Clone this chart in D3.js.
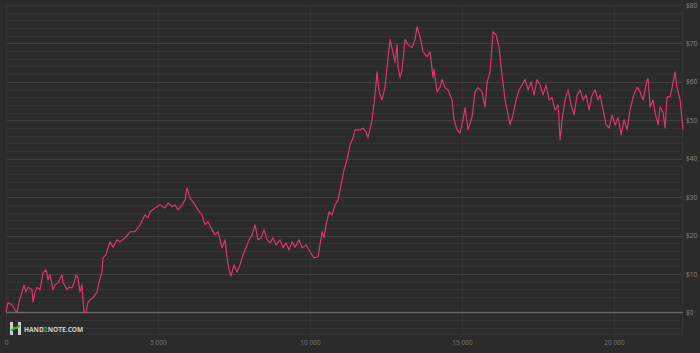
<!DOCTYPE html>
<html><head><meta charset="utf-8">
<script src="https://cdn.jsdelivr.net/npm/d3@7"></script>
<style>html,body{margin:0;padding:0;background:#2b2b2b;}svg{display:block;}</style>
</head><body>
<svg id="c" width="700" height="353"></svg>
<script>
const hands = [0,66,197,296,362,428,526,592,658,724,855,888,954,1020,1119,1217,1316,1382,1448,1546,1612,1711,1842,1875,2007,2073,2171,2237,2303,2369,2435,2500,2533,2566,2632,2698,2764,2862,2994,3060,3158,3191,3290,3356,3422,3520,3652,3751,
3915,4080,4244,4409,4573,4672,4738,4902,5067,5231,5330,5461,5560,5659,5790,5889,5955,6054,6218,6317,6448,6547,6646,6777,6876,6975,7106,7205,7271,7337,7403,7501,7600,7699,7797,7896,7995,8093,8192,8291,8390,8488,8587,8686,8784,8883,9015,9113,9212,9311,9409,9508,9640,9738,9870,10002,10133,10265,10331,10396,10462,10528,10627,10725,10824,10923,11022,11120,11219,11318,11416,
11482,11647,11745,11844,11910,12041,12140,12206,12272,12370,12469,12535,12634,12732,12798,12864,12897,12963,13028,13061,13127,13226,13357,13456,13522,13621,13719,13851,13950,14048,14081,14180,14279,14344,14443,14542,14673,14739,14838,14937,15035,15101,15200,15331,15430,15529,15660,15759,15825,15924,16022,16121,16220,
16318,16417,16516,16582,16680,16779,16878,16976,17075,17174,17273,17371,17470,17569,17667,17766,17865,17963,18062,18161,18227,18292,18391,18490,18589,18687,18786,18885,18983,19082,19181,19279,19378,19477,19543,19641,19740,19839,19937,20036,20135,20234,20332,20431,20530,20629,20760,20859,20958,21089,21122,21188,21286,21352,21451,21517,21615,21681,21747,21846,21911,22010,22076,22175,22240,22273];
const winnings = [0.1,2.5,2,0.7,0,2.7,5.3,7.2,5.3,6.6,5.9,2.7,5.3,6.6,5.9,10.3,11.1,8.5,9.8,5.9,7.2,7.7,9.8,7.9,5.9,6.6,6.4,7.7,9.8,9,5.3,7.2,3.3,0.1,0,2.7,3.3,3.8,5.3,7.9,10.5,14.2,15,16.8,18.4,17,18.9,18.4,
19.4,21,21,22.8,25.4,24.6,26.2,27.2,28,27.2,28.5,27.5,28,26.7,28,29.3,32.4,29.8,28,26.7,25.4,22.8,23.6,21.5,20.2,21,16.8,18.9,14.2,11.1,9.5,12.4,10.5,12.4,15,16.8,18.9,20.2,22.8,18.9,19.4,21.5,18.9,18.1,19.4,17.6,18.9,16.8,18.1,16.3,18.4,17,18.9,16.8,17.6,15.8,14.2,14.5,17.6,21,19.4,22.8,26.2,25.4,28,29.3,33.2,37.1,39.7,43.6,45.4,
47.5,47.5,48,47,45.4,50.1,56.6,62.6,57.4,55.3,58.7,63.9,71,67.6,65,69.7,63.9,61.1,63.2,65.8,71,69.7,68.9,71,74.3,71.7,67.8,66.5,67.8,61.1,63.2,57.4,58.7,60.6,58.5,57.9,55.3,50.1,47.5,46.7,50.1,53.3,47.5,50.9,57.4,58.5,57.4,53.5,59.8,62.6,73,72.3,68.9,
61.8,55.3,51.4,48.8,51.4,55.3,57.9,59.2,60.6,57.9,60,56.6,60.6,59.2,56.6,59.2,55.3,55.9,52.7,54,44.9,50.1,55.3,57.9,54,51.4,56.6,57.9,55.3,56.6,52.7,56.6,57.9,55.3,56.6,52.7,48.8,48,51.4,48.8,50.7,46.2,50.1,47.5,52.7,56.1,58.7,57.4,55.3,60.6,60.8,53.5,55.3,52,48.8,53.5,52,48,56.1,56.1,58.5,62.6,58.5,55.3,50.1,47.5];
const xTicks = [0,5000,10000,15000,20000];
const xTickLabels = ["0","5 000","10 000","15 000","20 000"];
const yTicks = [0,10,20,30,40,50,60,70,80];
const yTickLabels = ["$0","$10","$20","$30","$40","$50","$60","$70","$80"];

const svg = d3.select("#c");
const L=6,R=683,T=5,B=335;
const x = d3.scaleLinear().domain([0,22270]).range([L,R]);
const y = d3.scaleLinear().domain([-5.86,80]).range([B,T]);

svg.append("rect").attr("width",700).attr("height",353).attr("fill","#2b2b2b");

const minor = d3.range(-4,81,2).filter(v=>v%10!==0);
svg.append("g").selectAll("line").data(minor).join("line")
  .attr("x1",L).attr("x2",R).attr("y1",d=>Math.round(y(d))+0.5).attr("y2",d=>Math.round(y(d))+0.5)
  .attr("stroke","#333333").attr("stroke-width",1);
svg.append("g").selectAll("line").data(xTicks.slice(1)).join("line")
  .attr("x1",d=>Math.round(x(d))+0.5).attr("x2",d=>Math.round(x(d))+0.5).attr("y1",T).attr("y2",B)
  .attr("stroke","#353535");
svg.append("g").selectAll("line").data(yTicks.filter(v=>v!==0)).join("line")
  .attr("x1",L).attr("x2",R).attr("y1",d=>Math.round(y(d))+0.5).attr("y2",d=>Math.round(y(d))+0.5)
  .attr("stroke","#404040").attr("stroke-width",1);
svg.append("rect").attr("x",L+0.5).attr("y",T+0.5).attr("width",R-L-1).attr("height",B-T-1)
  .attr("fill","none").attr("stroke","#353535");

const yAxis = d3.axisRight(y).tickValues(yTicks).tickSize(0).tickPadding(3)
  .tickFormat((d,i)=>yTickLabels[i]);
const ga = svg.append("g").attr("transform",`translate(${R},0)`).call(yAxis);
ga.select(".domain").remove();
ga.selectAll("text").attr("fill","#8a8a8a").attr("font-size","6.5px").attr("font-family","'Open Sans', sans-serif");

const xAxis = d3.axisBottom(x).tickValues(xTicks).tickSize(0).tickPadding(5)
  .tickFormat((d,i)=>xTickLabels[i]);
const gx = svg.append("g").attr("transform",`translate(0,${B})`).call(xAxis);
gx.select(".domain").remove();
gx.selectAll("text").attr("fill","#7a7a7a").attr("font-size","6.5px").attr("font-family","'Open Sans', sans-serif");

svg.append("line").attr("x1",L).attr("x2",R).attr("y1",y(0)).attr("y2",y(0))
  .attr("stroke","#666666").attr("stroke-width",1.5);

const lg = svg.append("g").attr("transform","translate(10,322)");
lg.append("rect").attr("x",0).attr("y",0).attr("width",3).attr("height",13).attr("fill","#d0d0d0");
lg.append("rect").attr("x",8).attr("y",0).attr("width",3).attr("height",13).attr("fill","#d0d0d0");
lg.append("path").attr("d","M1.5,9 L4,6 L7,6 L9.5,3").attr("stroke","#3fae49").attr("stroke-width",2.2).attr("fill","none");
const lt = svg.append("text").attr("x",24).attr("y",331.5).attr("font-family","'Open Sans', sans-serif")
  .attr("font-weight","bold").attr("font-size","6.6px").attr("fill","#cfcfcf");
lt.append("tspan").text("HAND");
lt.append("tspan").attr("fill","#3fae49").text("2");
lt.append("tspan").text("NOTE.COM");

const data = hands.map((h,i)=>[h,winnings[i]]);
svg.append("path").datum(data)
  .attr("d",d3.line().x(d=>x(d[0])).y(d=>y(d[1])))
  .attr("fill","none").attr("stroke","#e5356f").attr("stroke-width",1.15).attr("stroke-linejoin","round");
</script>
</body></html>
